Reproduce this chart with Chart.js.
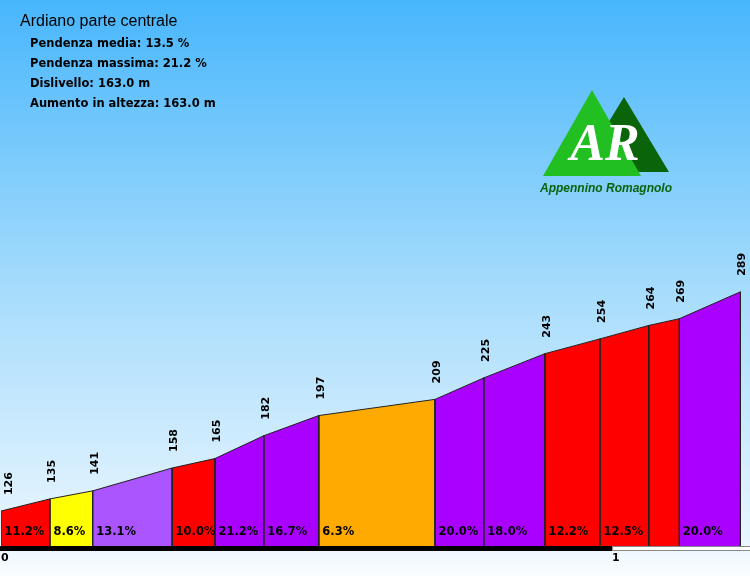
<!DOCTYPE html>
<html>
<head>
<meta charset="utf-8">
<title>Ardiano parte centrale</title>
<script src="https://cdn.jsdelivr.net/npm/chart.js@4"></script>
<style>
  body { margin: 0; background: #fff; }
  #profile { display: block; }
</style>
</head>
<body>
<canvas id="profile" width="750" height="576"></canvas>
<script>
// profile data
const distances = [0, 0.08, 0.15, 0.28, 0.35, 0.43, 0.52, 0.71, 0.79, 0.89, 0.98, 1.06, 1.11, 1.21]; // km
const elevations = [126, 135, 141, 158, 165, 182, 197, 209, 225, 243, 254, 264, 269, 289];     // m
const grades = [11.2, 8.6, 13.1, 10.0, 21.2, 16.7, 6.3, 20.0, 18.0, 12.2, 12.5, 10.0, 20.0];     // %
const kmTicks = [0, 1];

const title = 'Ardiano parte centrale';
const stats = [
    'Pendenza media: 13.5 %',
    'Pendenza massima: 21.2 %',
    'Dislivello: 163.0 m',
    'Aumento in altezza: 163.0 m'
];

const yMin = 100;
const yMax = 506;
const xMax = 1.224;

function gradeColor(g) {
    if (g < 7) return '#ffaa00';
    if (g < 10) return '#ffff00';
    if (g < 13) return '#ff0000';
    if (g < 15) return '#aa55ff';
    return '#aa00ff';
}

// one closed polygon per segment
const datasets = grades.map(function(g, i) {
    return {
        data: [
            { x: distances[i], y: yMin },
            { x: distances[i], y: elevations[i] },
            { x: distances[i + 1], y: elevations[i + 1] },
            { x: distances[i + 1], y: yMin }
        ],
        backgroundColor: gradeColor(g),
        borderColor: '#222',
        borderWidth: 1,
        pointRadius: 0,
        fill: 'start',
        tension: 0
    };
});

const backdrop = {
    id: 'backdrop',
    beforeDraw(chart) {
        const c = chart.ctx;
        const grad = c.createLinearGradient(0, 0, 0, chart.height);
        grad.addColorStop(0, '#48b6fc');
        grad.addColorStop(0.5, '#a6dcfc');
        grad.addColorStop(0.93, '#e8f5ff');
        grad.addColorStop(1, '#fafdff');
        c.save();
        c.fillStyle = grad;
        c.fillRect(0, 0, chart.width, chart.height);

        // header texts
        c.fillStyle = '#000';
        c.textBaseline = 'alphabetic';
        c.font = '16px "Liberation Sans"';
        c.fillText(title, 20, 26);
        c.font = 'bold 11.5px "DejaVu Sans"';
        stats.forEach(function(s, i) {
            c.fillText(s, 30, 47 + i * 20);
        });

        // logo
        c.fillStyle = '#0a640a';
        c.beginPath();
        c.moveTo(624, 97); c.lineTo(669, 172); c.lineTo(578, 172); c.closePath();
        c.fill();
        c.fillStyle = '#22bf22';
        c.beginPath();
        c.moveTo(592, 90); c.lineTo(641, 176); c.lineTo(543, 176); c.closePath();
        c.fill();
        c.fillStyle = '#fff';
        c.font = 'italic bold 52px "Liberation Serif"';
        c.textAlign = 'center';
        c.fillText('AR', 605, 160);
        c.fillStyle = '#0a640a';
        c.font = 'italic bold 12px "Liberation Sans"';
        c.fillText('Appennino Romagnolo', 606, 192);
        c.restore();
    }
};

const labels = {
    id: 'labels',
    afterDatasetsDraw(chart) {
        const c = chart.ctx;
        const xs = chart.scales.x, ys = chart.scales.y;
        const bottom = chart.chartArea.bottom;
        c.save();
        c.fillStyle = '#000';

        // elevation labels, vertical
        c.font = 'bold 11px "DejaVu Sans"';
        c.textAlign = 'left';
        c.textBaseline = 'middle';
        elevations.forEach(function(e, i) {
            const px = Math.max(xs.getPixelForValue(distances[i]) + 2, 9);
            const py = ys.getPixelForValue(e) - 16;
            c.save();
            c.translate(px, py);
            c.rotate(-Math.PI / 2);
            c.fillText(String(e), 0, 0);
            c.restore();
        });

        // grade labels
        c.font = 'bold 11.5px "DejaVu Sans"';
        grades.forEach(function(g, i) {
            const x0 = xs.getPixelForValue(distances[i]);
            const x1 = xs.getPixelForValue(distances[i + 1]);
            if (x1 - x0 < 35) return;
            c.fillText(g.toFixed(1) + '%', x0 + 3.5, bottom - 14);
        });

        // km bar
        for (let k = 0; k < kmTicks.length; k++) {
            const a = xs.getPixelForValue(kmTicks[k]);
            const b = k + 1 < kmTicks.length ? xs.getPixelForValue(kmTicks[k + 1]) : chart.width;
            if (k % 2 === 0) {
                c.fillStyle = '#000';
                c.fillRect(a - 1, bottom, b - a + 1, 5);
            } else {
                c.fillStyle = '#fff';
                c.fillRect(a, bottom, b - a, 5);
                c.strokeStyle = '#888';
                c.lineWidth = 1;
                c.strokeRect(a + 0.5, bottom + 0.5, b - a, 4);
            }
        }
        c.restore();
    }
};

new Chart(document.getElementById('profile').getContext('2d'), {
    type: 'line',
    data: { datasets: datasets },
    options: {
        responsive: false,
        animation: false,
        layout: { padding: { left: 1, right: 1, top: 0, bottom: 0 } },
        plugins: { legend: { display: false }, tooltip: { enabled: false } },
        scales: {
            x: {
                type: 'linear',
                min: 0,
                max: xMax,
                grid: { display: false },
                border: { display: false },
                afterFit: function(s) { s.height = 30; },
                afterBuildTicks: function(s) { s.ticks = kmTicks.map(function(v) { return { value: v }; }); },
                ticks: {
                    align: 'start',
                    padding: -2,
                    color: '#000',
                    font: { family: 'DejaVu Sans', weight: 'bold', size: 11 },
                    autoSkip: false,
                    maxRotation: 0
                }
            },
            y: {
                display: false,
                min: yMin,
                max: yMax
            }
        }
    },
    plugins: [backdrop, labels]
});
</script>
</body>
</html>
